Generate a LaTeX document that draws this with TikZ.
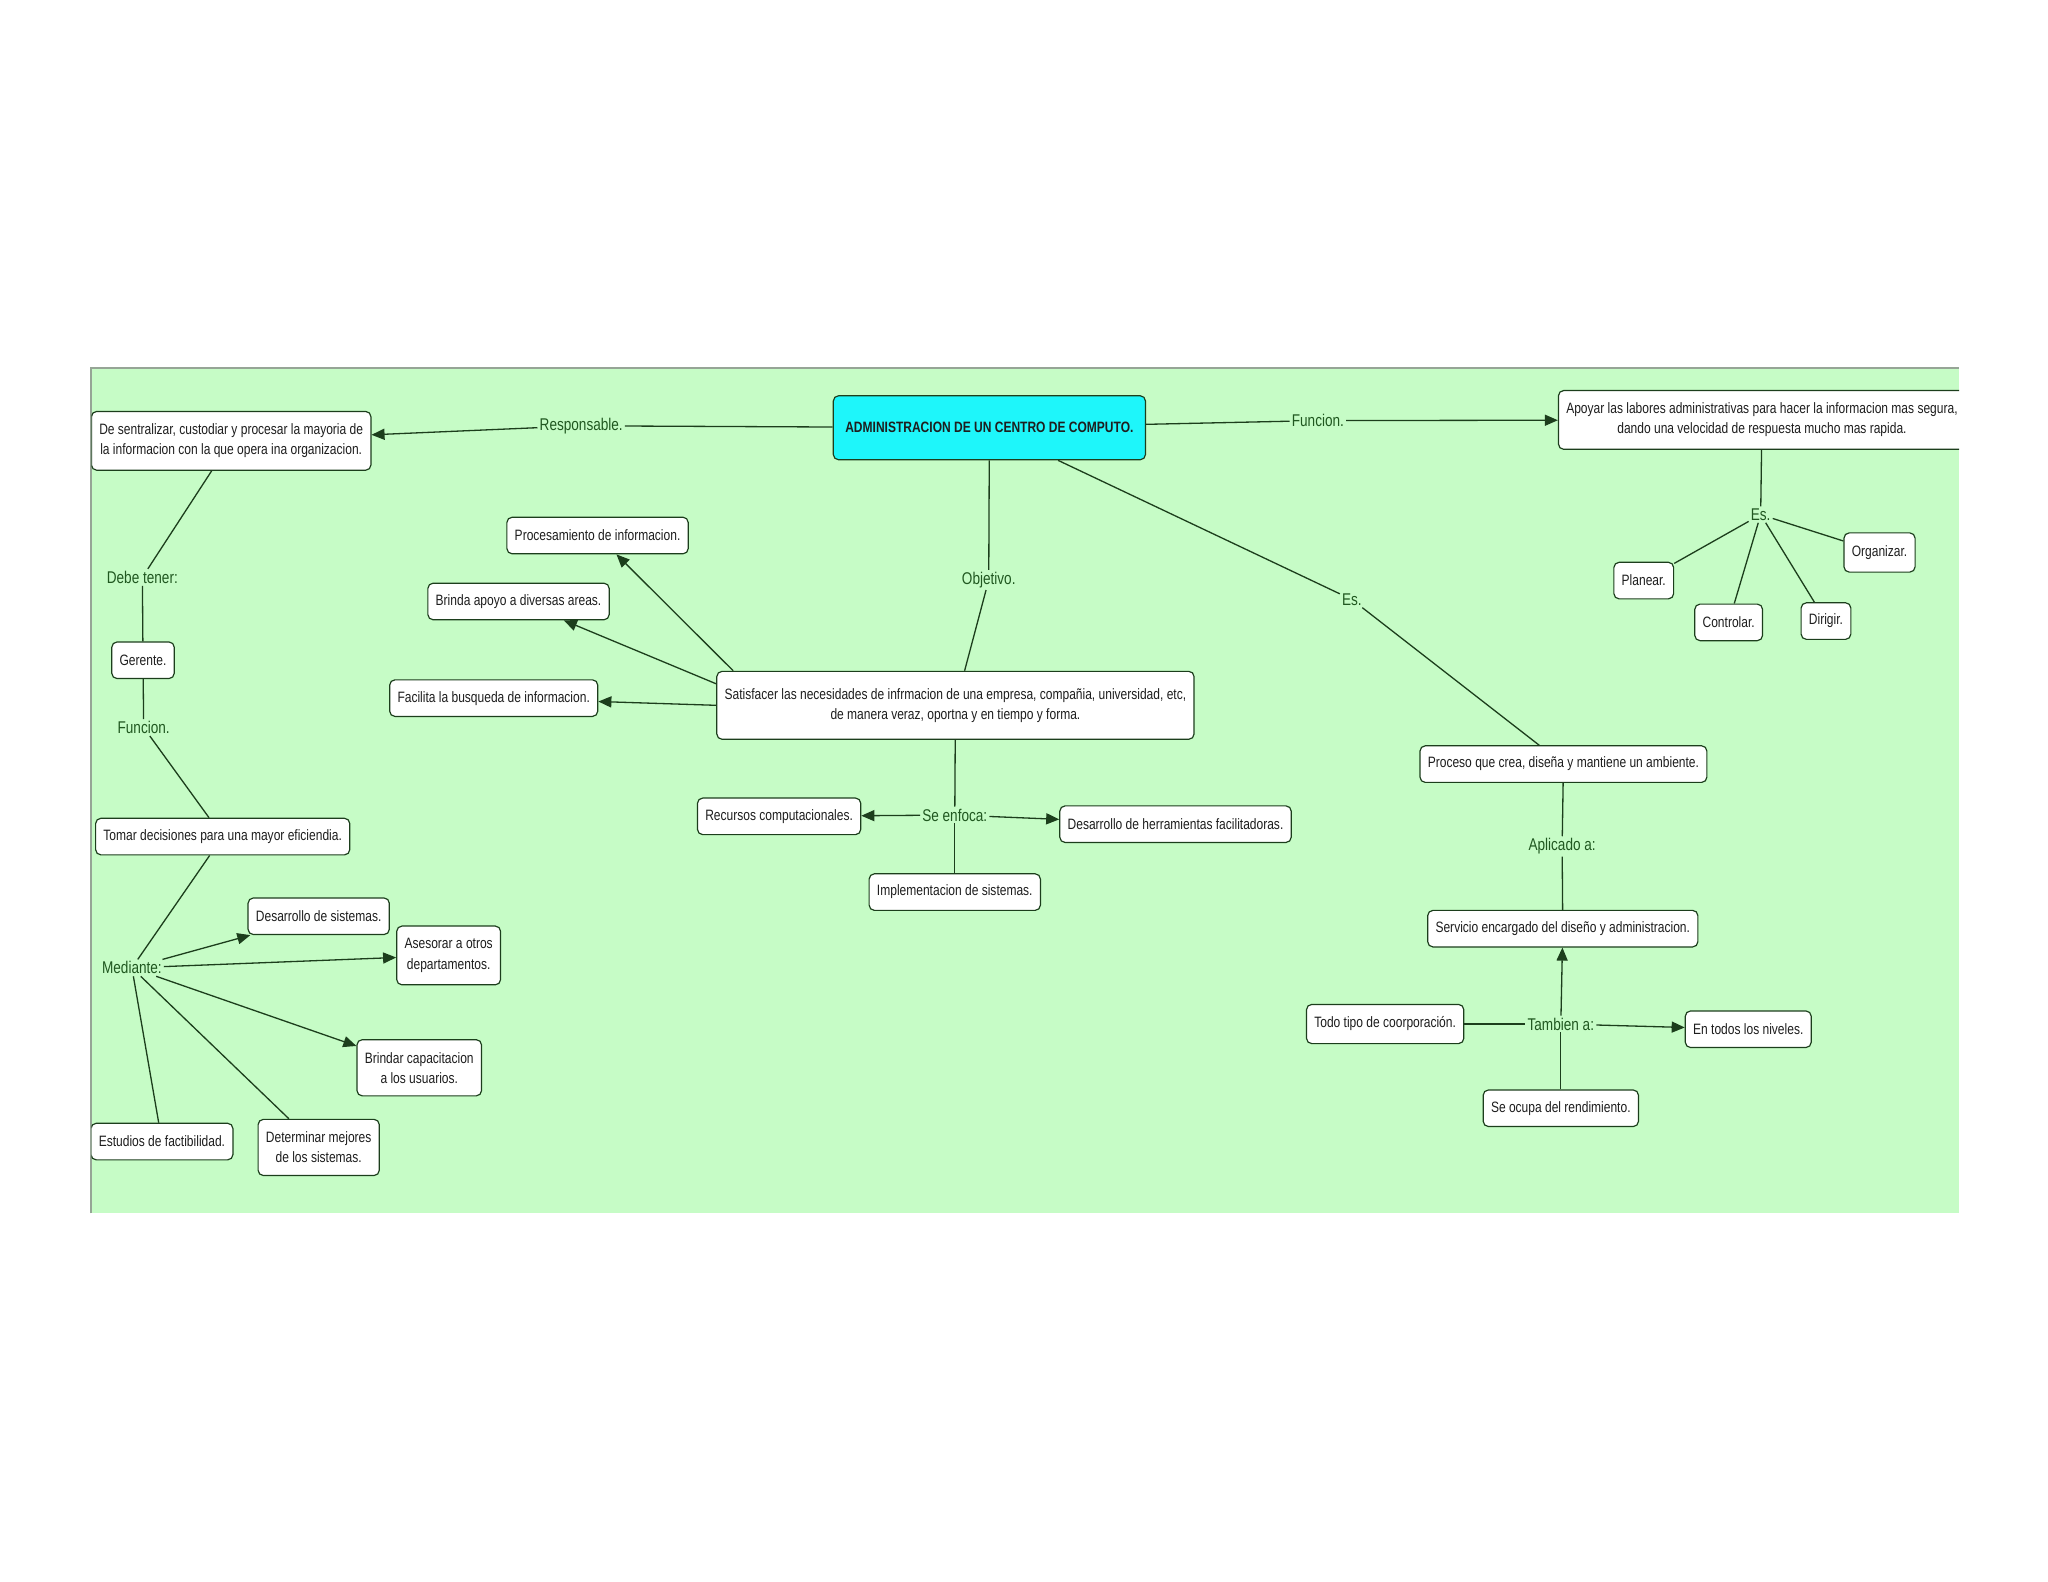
\documentclass[tikz,border=0pt]{standalone}
\usepackage{fontspec}
\setmainfont[FakeStretch=0.8]{Liberation Sans}
\usetikzlibrary{arrows.meta,calc}
\definecolor{bggreen}{RGB}{198,252,198}
\definecolor{maincyan}{RGB}{30,246,250}
\definecolor{linecol}{RGB}{28,62,28}
\definecolor{labcol}{RGB}{32,88,32}
\definecolor{framecol}{RGB}{150,165,150}
\definecolor{textcol}{RGB}{30,30,30}
\begin{document}
\begin{tikzpicture}[x=1pt,y=-1pt,
  box/.style={draw=linecol, fill=white, rounded corners=4pt, line width=0.9pt, align=center,
    inner xsep=6pt, inner ysep=3pt, minimum height=28pt, text=textcol,
    font=\fontsize{11.5}{15.5}\selectfont},
  twoline/.style={minimum height=45pt},
  lab/.style={inner sep=1.5pt, text=labcol, font=\fontsize{13}{15}\selectfont},
  conn/.style={draw=linecol, line width=1pt},
  arr/.style={conn, -{Triangle[length=10pt,width=8.5pt]}}]
\useasboundingbox (0,0) rectangle (1568,1211);
\fill[white] (0,0) rectangle (1568,1211);
\fill[bggreen] (69.5,282) rectangle (1500,929);
\draw[framecol, line width=1.5pt] (69.5,929) -- (69.5,282) -- (1500,282);
\begin{scope}
\clip (70,282.7) rectangle (1500,929);
% concept nodes
\node[box, fill=maincyan, minimum width=239pt, minimum height=49pt,
  font=\bfseries\fontsize{11.5}{14}\selectfont] (main) at (757.5,327.5) {ADMINISTRACION DE UN CENTRO DE COMPUTO.};
\node[box, twoline] (desc) at (177,337.5) {De sentralizar, custodiar y procesar la mayoria de\\la informacion con la que opera ina organizacion.};
\node[box, twoline] (apoyar) at (1349,321.5) {Apoyar las labores administrativas para hacer la informacion mas segura,\\dando una velocidad de respuesta mucho mas rapida.};
\node[box] (proc) at (457.5,410) {Procesamiento de informacion.};
\node[box] (brinda) at (397,460.5) {Brinda apoyo a diversas areas.};
\node[box] (facil) at (378,534.5) {Facilita la busqueda de informacion.};
\node[box, minimum height=52pt] (satis) at (731.5,540) {Satisfacer las necesidades de infrmacion de una empresa, compañia, universidad, etc,\\de manera veraz, oportna y en tiempo y forma.};
\node[box] (recur) at (596.5,625) {Recursos computacionales.};
\node[box] (herr) at (900,631) {Desarrollo de herramientas facilitadoras.};
\node[box] (impl) at (731,683) {Implementacion de sistemas.};
\node[box] (proceso) at (1197,585) {Proceso que crea, diseña y mantiene un ambiente.};
\node[box] (serv) at (1196.5,711) {Servicio encargado del diseño y administracion.};
\node[box, minimum height=30pt] (todo) at (1060.5,784) {Todo tipo de coorporación.};
\node[box] (niveles) at (1338.5,788) {En todos los niveles.};
\node[box] (ocupa) at (1195,848.5) {Se ocupa del rendimiento.};
\node[box] (planear) at (1258.5,444.5) {Planear.};
\node[box] (controlar) at (1323.5,476.5) {Controlar.};
\node[box] (dirigir) at (1398,475.5) {Dirigir.};
\node[box, minimum height=30pt] (organizar) at (1439,423) {Organizar.};
\node[box] (gerente) at (109.5,505.5) {Gerente.};
\node[box] (tomar) at (170.5,640.5) {Tomar decisiones para una mayor eficiendia.};
\node[box] (dessis) at (244,701.5) {Desarrollo de sistemas.};
\node[box, twoline] (asesorar) at (343.5,731.5) {Asesorar a otros\\departamentos.};
\node[box, twoline, minimum height=43pt] (brindar) at (321,817.5) {Brindar capacitacion\\a los usuarios.};
\node[box] (estudios) at (124,874) {Estudios de factibilidad.};
\node[box, twoline, minimum height=43pt] (determinar) at (244,878.5) {Determinar mejores\\de los sistemas.};
% linking phrases
\node[lab] (lResp) at (445,326) {Responsable.};
\node[lab] (lFun) at (1009,322) {Funcion.};
\node[lab] (lObj) at (757,444) {Objetivo.};
\node[lab] (lEs) at (1035,459) {Es.};
\node[lab] (lEs2) at (1348,394) {Es.};
\node[lab] (lDebe) at (109,442) {Debe tener:};
\node[lab] (lFun2) at (110,557) {Funcion.};
\node[lab] (lMed) at (101,741) {Mediante:};
\node[lab] (lEnf) at (731,624) {Se enfoca:};
\node[lab] (lApl) at (1196,648) {Aplicado a:};
\node[lab] (lTam) at (1195,784) {Tambien a:};
% connectors
\draw[conn] (main) -- (lResp);
\draw[arr] (lResp) -- (desc);
\draw[conn] (main) -- (lFun);
\draw[arr] (lFun) -- (apoyar);
\draw[conn] (main) -- (lObj);
\draw[conn] (lObj) -- (satis);
\draw[conn] (main) -- (lEs);
\draw[conn] (lEs) -- (proceso);
\draw[conn] (apoyar) -- (lEs2);
\foreach \t in {planear,controlar,dirigir,organizar} \draw[conn] (lEs2) -- (\t);
\draw[conn] (desc) -- (lDebe);
\draw[conn] (lDebe) -- (gerente);
\draw[conn] (gerente) -- (lFun2);
\draw[conn] (lFun2) -- (tomar);
\draw[conn] (tomar) -- (lMed);
\draw[arr] (lMed) -- (dessis);
\draw[arr] (lMed) -- (asesorar);
\draw[arr] (lMed) -- (brindar);
\draw[conn] (lMed) -- (estudios);
\draw[conn] (lMed) -- (determinar);
\draw[arr] ($(satis.north west)+(13,0)$) -- (proc);
\draw[arr] ($(satis.north west)+(0,10)$) -- (brinda);
\draw[arr] (satis.west) -- (facil);
\draw[conn] (satis) -- (lEnf);
\draw[arr] (lEnf) -- (recur);
\draw[arr] (lEnf) -- (herr);
\draw[conn] (lEnf) -- (impl);
\draw[conn] (proceso) -- (lApl);
\draw[conn] (lApl) -- (serv);
\draw[arr] (lTam) -- (serv);
\draw[conn] (todo) -- (lTam);
\draw[arr] (lTam) -- (niveles);
\draw[conn] (ocupa) -- (lTam);
\end{scope}
\end{tikzpicture}
\end{document}
